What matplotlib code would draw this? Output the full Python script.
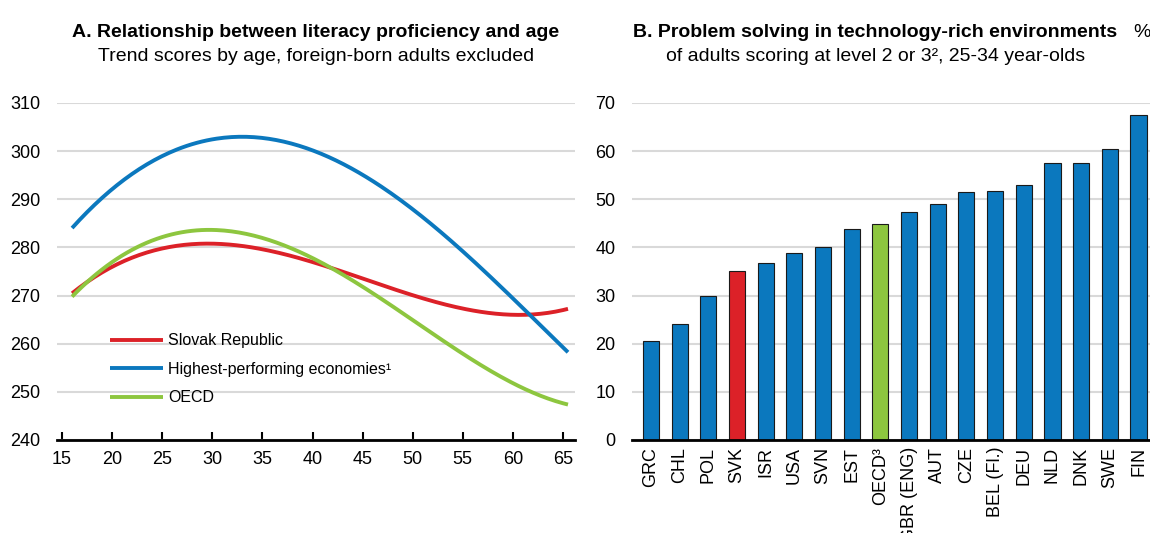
import matplotlib.pyplot as plt
import numpy as np

plt.rcParams['font.family'] = ['Liberation Sans Narrow', 'Liberation Sans', 'DejaVu Sans']

# Panel A: trend literacy scores by age
ages = [16, 20, 25, 30, 33, 35, 40, 45, 50, 55, 60, 62, 65.5]
slovak = [270.3, 276.3, 279.8, 280.5, 280.2, 279.6, 277.2, 273.6, 270.0, 267.3, 266.0, 266.0, 267.3]
highest = [284.0, 292.2, 298.8, 302.5, 303.1, 302.8, 300.0, 295.0, 288.0, 279.3, 269.4, 265.2, 258.3]
oecd = [269.8, 277.0, 282.0, 283.5, 283.0, 282.2, 278.0, 271.6, 264.8, 257.8, 252.0, 250.0, 247.2]

# Panel B: problem solving, % at level 2 or 3
countries = ['GRC', 'CHL', 'POL', 'SVK', 'ISR', 'USA', 'SVN', 'EST', 'OECD³',
             'GBR (ENG)', 'AUT', 'CZE', 'BEL (Fl.)', 'DEU', 'NLD', 'DNK', 'SWE', 'FIN']
shares = [20.5, 24.1, 30.0, 35.0, 36.8, 38.9, 40.0, 43.8, 44.9,
          47.4, 49.1, 51.5, 51.8, 52.9, 57.6, 57.6, 60.5, 67.6]

red = '#DC2128'
blue = '#0B78BE'
green = '#8DC63F'

fig = plt.figure(figsize=(11.5, 5.33), dpi=100)

# ~~~~~ Panel A ~~~~~
ax1 = fig.add_axes([0.0496, 0.1745, 0.4504, 0.6323])
xs = np.linspace(16, 65.5, 200)
for vals, col, lab in [(slovak, red, 'Slovak Republic'),
                       (highest, blue, 'Highest-performing economies¹'),
                       (oecd, green, 'OECD')]:
    coef = np.polyfit(ages, vals, 4)
    ax1.plot(xs, np.polyval(coef, xs), color=col, lw=2.8, label=lab,
             solid_capstyle='butt')
ax1.set_xlim(14.5, 66.2)
ax1.set_ylim(240, 310)
ax1.set_xticks(range(15, 70, 5))
ax1.set_yticks(range(240, 320, 10))
ax1.grid(axis='y', color='#d9d9d9', lw=1.5)
ax1.set_axisbelow(True)
for s in ['top', 'right', 'left']:
    ax1.spines[s].set_visible(False)
ax1.spines['bottom'].set_linewidth(2)
ax1.tick_params(axis='x', direction='in', length=6, width=1.5, labelsize=13, pad=8)
ax1.tick_params(axis='y', length=0, labelsize=13, pad=12)
ax1.legend(loc='lower left', bbox_to_anchor=(0.075, 0.06), frameon=False,
           fontsize=11.5, handlelength=3.3, handletextpad=0.3, labelspacing=0.85)
ax1.text(0.5, 1.21, 'A. Relationship between literacy proficiency and age',
         transform=ax1.transAxes, ha='center', va='center', fontsize=14, fontweight='bold')
ax1.text(0.5, 1.137, 'Trend scores by age, foreign-born adults excluded',
         transform=ax1.transAxes, ha='center', va='center', fontsize=14)

# ~~~~~ Panel B ~~~~~
ax2 = fig.add_axes([0.5496, 0.1745, 0.4504, 0.6323])
x = np.arange(len(countries))
cols = [red if c == 'SVK' else green if c.startswith('OECD') else blue for c in countries]
ax2.bar(x, shares, width=0.56, color=cols, edgecolor='#1a1a1a', linewidth=0.8)
ax2.set_xlim(-0.66, 17.4)
ax2.set_ylim(0, 70)
ax2.set_yticks(range(0, 80, 10))
ax2.set_xticks(x)
ax2.set_xticklabels(countries, rotation=90)
ax2.grid(axis='y', color='#d9d9d9', lw=1.5)
ax2.set_axisbelow(True)
for s in ['top', 'right', 'left']:
    ax2.spines[s].set_visible(False)
ax2.spines['bottom'].set_linewidth(2)
ax2.tick_params(axis='x', length=0, labelsize=13, pad=5)
ax2.tick_params(axis='y', length=0, labelsize=13, pad=12)
ax2.text(0.47, 1.21, 'B. Problem solving in technology-rich environments',
         transform=ax2.transAxes, ha='center', va='center', fontsize=14, fontweight='bold')
ax2.text(0.47, 1.137, 'of adults scoring at level 2 or 3², 25-34 year-olds',
         transform=ax2.transAxes, ha='center', va='center', fontsize=14)
ax2.text(0.985, 1.21, '%', transform=ax2.transAxes, ha='center', va='center', fontsize=14)

fig.savefig('out.png', dpi=100)
